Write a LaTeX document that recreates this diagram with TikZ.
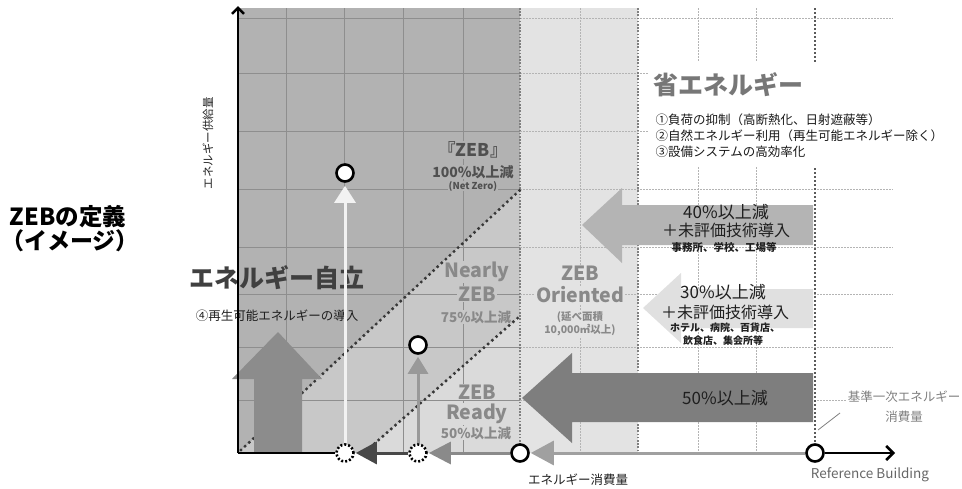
\documentclass[tikz,border=0pt]{standalone}
\usepackage{fontspec}
\setmainfont{Noto Sans CJK JP}
\usetikzlibrary{arrows.meta}
\definecolor{darkreg}{HTML}{B2B2B2}
\definecolor{nearreg}{HTML}{C8C8C8}
\definecolor{readyreg}{HTML}{DADADA}
\definecolor{orireg}{HTML}{E3E3E3}
\definecolor{gridd}{HTML}{8E8E8E}
\definecolor{gridl}{HTML}{B4B4B4}
\definecolor{bandc}{HTML}{808080}
\definecolor{refc}{HTML}{5A5A5A}
\definecolor{zebtxt}{HTML}{505050}
\definecolor{regtxt}{HTML}{898989}
\definecolor{shotxt}{HTML}{777777}
\definecolor{arrA}{HTML}{B4B4B4}
\definecolor{arrB}{HTML}{E0E0E0}
\definecolor{arrC}{HTML}{7E7E7E}
\definecolor{arrUp}{HTML}{8C8C8C}
\definecolor{axA}{HTML}{484848}
\definecolor{axB}{HTML}{8A8A8A}
\definecolor{axC}{HTML}{A0A0A0}
\definecolor{diagc}{HTML}{383838}
\definecolor{whitearr}{HTML}{F2F2F2}
\definecolor{grayarr}{HTML}{999999}
\newcommand\fsz[1]{\fontsize{#1}{#1}\selectfont}
\pgfdeclarelayer{front}
\pgfsetlayers{main,front}
\tikzset{
  gridsolid/.style={draw=gridd, line width=0.7pt},
  griddash/.style={draw=gridl, line width=0.7pt, dash pattern=on 1.5pt off 1.5pt},
  bandline/.style={draw=bandc, line width=1.6pt, dash pattern=on 1.6pt off 1.6pt},
  refline/.style={draw=refc, line width=2.4pt, dash pattern=on 2pt off 2pt},
  diag/.style={draw=diagc, line width=3.4pt, dash pattern=on 0pt off 5.6pt, line cap=round},
  pt/.style={circle, draw=black, fill=white, line width=2.6pt, minimum size=17pt, inner sep=0pt},
  dpt/.style={circle, draw=black, fill=white, line width=2.6pt, dash pattern=on 2pt off 2pt, minimum size=17pt, inner sep=0pt},
  txt/.style={inner sep=0.5pt},
  regtext/.style={inner sep=1pt, text=regtxt, font=\fsz{19.5}\bfseries},
  regsmall/.style={inner sep=1pt, text=regtxt, font=\fsz{13.5}\bfseries},
  arrtext/.style={inner sep=0pt, text=black!88, font=\fsz{17}},
  arrplus/.style={inner sep=0pt, text=black!88, font=\fsz{16}},
  arrsmall/.style={inner sep=0pt, text=black!88, font=\fsz{10.5}\bfseries},
  axis/.style={line width=2.5pt, draw=black},
}
\begin{document}
\begin{tikzpicture}[x=1pt,y=-1pt]
\useasboundingbox (0,0) rectangle (962,488);
% points (front layer)
\begin{pgfonlayer}{front}
\node[pt] (c0) at (345,173) {};
\node[pt] (cA) at (418,345) {};
\node[pt] (cB) at (520,453) {};
\node[pt] (cRef) at (815,453) {};
\node[dpt] (d1) at (345,453) {};
\node[dpt] (d2) at (418,453) {};
\end{pgfonlayer}
\coordinate (O) at (238,453);
\coordinate (ytop) at (238,6);
\coordinate (xend) at (895,453);
\coordinate (reftop) at (815,8);
% regions
\fill[darkreg] (238,8) -- (520,8) -- (520,190) -- (240,452) -- (238,453) -- cycle;
\fill[nearreg] (240,452) -- (520,190) -- (520,316) -- (365,453) -- cycle;
\fill[readyreg] (365,453) -- (520,316) -- (520,453) -- cycle;
\fill[orireg] (520,8) rectangle (638,453);
% grid
\foreach \y in {18,73,131,189,247,294,347,400} {
  \draw[gridsolid] (238,\y) -- (520,\y);
  \draw[griddash] (520,\y) -- (893,\y);
}
\foreach \x in {286,344,403,463} \draw[gridsolid] (\x,8) -- (\x,453);
\foreach \x in {580,698,756} \draw[griddash] (\x,8) -- (\x,453);
\foreach \x in {520,638} \draw[bandline] (\x,8) -- (\x,453);
\draw[refline] (reftop) -- (cRef);
% white box behind the 省エネルギー text
\fill[white] (648,62) rectangle (946,166);
% region labels
\node[txt, fill=darkreg, text=zebtxt, font=\fsz{17.5}\bfseries] (zebA) at (473,150) {『ZEB』};
\node[txt, fill=darkreg, text=zebtxt, font=\fsz{14}\bfseries] (zebB) at (473,172) {100\%以上減};
\node[txt, fill=darkreg, text=zebtxt, font=\fsz{9.5}\bfseries] (zebC) at (473,186) {(Net Zero)};
\node[regtext, fill=nearreg] (nearA) at (477,272) {Nearly};
\node[regtext, fill=nearreg] (nearB) at (477,294) {ZEB};
\node[regsmall, fill=nearreg] (nearC) at (476,317) {75\%以上減};
\node[regtext, fill=orireg] (oriA) at (580,273) {ZEB};
\node[regtext, fill=orireg] (oriB) at (580,295) {Oriented};
\node[inner sep=1pt, fill=orireg, text=regtxt, font=\fsz{10.5}\bfseries] (oriC) at (580,317) {(延べ面積};
\node[inner sep=1pt, fill=orireg, text=regtxt, font=\fsz{10.5}\bfseries] (oriD) at (580,330) {10,000㎡以上)};
\node[regtext, fill=readyreg] (readyA) at (477,392) {ZEB};
\node[regtext, fill=readyreg] (readyB) at (477,414) {Ready};
\node[regsmall, fill=readyreg] (readyC) at (476,433) {50\%以上減};
% diagonals
\coordinate (dA1) at (241,450);
\coordinate (dA2) at (520,190);
\coordinate (dB1) at (366,451);
\coordinate (dB2) at (520,316);
\draw[diag] (dA1) -- (dA2);
\draw[diag] (dB1) -- (dB2);
% big arrows
\fill[arrA] (582,225) -- (622,188) -- (622,205) -- (813,205) -- (813,245) -- (622,245) -- (622,263) -- cycle;
\fill[arrB] (643,308) -- (681,273) -- (681,289) -- (813,289) -- (813,328) -- (681,328) -- (681,343) -- cycle;
\fill[arrC] (522,398) -- (572,353) -- (572,373) -- (813,373) -- (813,422) -- (572,422) -- (572,443) -- cycle;
\fill[arrUp] (278,332) -- (322,379) -- (302,379) -- (302,453) -- (254,453) -- (254,379) -- (232,379) -- cycle;
% arrow texts
\node[arrtext] (t40a) at (726,212) {40\%以上減};
\node[arrplus] (t40b) at (726,230) {＋未評価技術導入};
\node[arrsmall] (t40c) at (724,247) {事務所、学校、工場等};
\node[arrtext] (t30a) at (723,292) {30\%以上減};
\node[arrplus] (t30b) at (725,312) {＋未評価技術導入};
\node[arrsmall, font=\fsz{10}\bfseries] (t30c) at (725,328) {ホテル、病院、百貨店、};
\node[arrsmall, font=\fsz{10}\bfseries] (t30d) at (723,341) {飲食店、集会所等};
\node[arrtext] (t50) at (725,398) {50\%以上減};
% 省エネルギー
\node[txt, text=shotxt, font=\fsz{25}\bfseries] (sho) at (728,85) {省エネルギー};
\node[txt, anchor=west, text=black!90, font=\fsz{12.5}] (s1) at (655,120) {①負荷の抑制（高断熱化、日射遮蔽等）};
\node[txt, anchor=west, text=black!90, font=\fsz{12.5}] (s2) at (655,136) {②自然エネルギー利用（再生可能エネルギー除く）};
\node[txt, anchor=west, text=black!90, font=\fsz{12.5}] (s3) at (655,152) {③設備システムの高効率化};
% left texts
\node[txt, font=\fsz{23.5}\bfseries] (ttl1) at (68,217) {ZEBの定義};
\node[txt, font=\fsz{23}\bfseries] (ttl2) at (70,241) {（イメージ）};
\node[txt, rotate=90, text=black!85, font=\fsz{11.5}] (ylab) at (208,143) {エネルギー供給量};
\node[txt, text=black!75, font=\fsz{25}\bfseries] (jiritsu) at (277,278) {エネルギー自立};
\node[txt, text=black!88, font=\fsz{12.5}] (renew) at (277,316) {④再生可能エネルギーの導入};
% vertical arrows
\draw[line width=3pt, draw=whitearr, -{Triangle[length=17pt,width=21pt,fill=whitearr]}, shorten >=3pt] (d1) -- (c0);
\draw[line width=3pt, draw=grayarr, -{Triangle[length=17pt,width=20pt,fill=grayarr]}, shorten >=2pt] (d2) -- (cA);
% axes
\draw[axis, -{Straight Barb[length=6pt,width=12pt]}] (O) -- (ytop);
\draw[axis] (O) -- (d1);
\draw[line width=3pt, draw=axA, -{Triangle[length=21pt,width=22pt]}, shorten >=1pt] (d2) -- (d1);
\draw[line width=3pt, draw=axB, -{Triangle[length=22pt,width=22pt]}, shorten >=1pt] (cB) -- (d2);
\draw[line width=3pt, draw=axC, -{Triangle[length=23pt,width=24pt]}, shorten >=1pt] (cRef) -- (cB);
\draw[axis, -{Straight Barb[length=7pt,width=14pt]}] (cRef) -- (xend);
% bottom labels
\node[txt, text=black!88, font=\fsz{12.5}] (xlab) at (578,480) {エネルギー消費量};
\node[txt, text=black!60, font=\fsz{13.5}] (refb) at (870,475) {Reference Building};
\node[inner sep=1pt, fill=white, text=black!50, font=\fsz{12.5}] (kijA) at (904,397) {基準一次エネルギー};
\node[inner sep=1pt, text=black!50, font=\fsz{12.5}] (kijB) at (904,417) {消費量};
\coordinate (ldA) at (818,430);
\coordinate (ldB) at (840,413);
\draw[draw=black!50, line width=0.8pt] (ldA) -- (ldB);
\end{tikzpicture}
\end{document}
